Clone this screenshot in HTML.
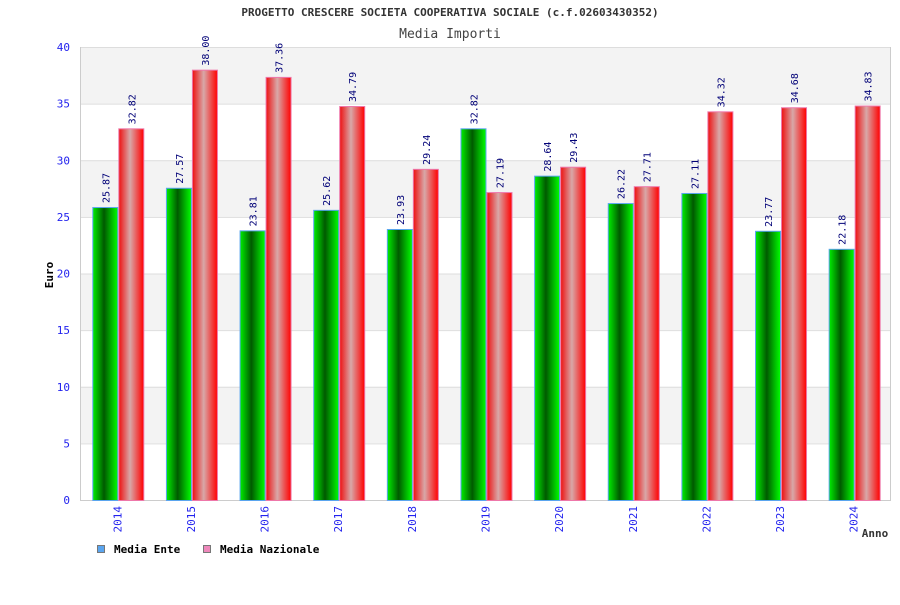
<!DOCTYPE html>
<html><head><meta charset="utf-8"><style>
body{margin:0;background:#fff;}
svg text{font-family:"DejaVu Sans Mono","Liberation Mono",monospace;}
</style></head><body>
<svg id="chart" width="900" height="600" xmlns="http://www.w3.org/2000/svg">
<defs>
<linearGradient id="gGreen" x1="0" x2="1" y1="0" y2="0">
<stop offset="0" stop-color="#00ee00"/><stop offset="0.45" stop-color="#005a00"/><stop offset="1" stop-color="#00ff00"/>
</linearGradient>
<linearGradient id="gRed" x1="0" x2="1" y1="0" y2="0">
<stop offset="0" stop-color="#ee1010"/><stop offset="0.45" stop-color="#d8a8a8"/><stop offset="1" stop-color="#ff0000"/>
</linearGradient>
</defs>
<text x="450" y="16" text-anchor="middle" font-size="11" font-weight="bold" fill="#333">PROGETTO CRESCERE SOCIETA COOPERATIVA SOCIALE (c.f.02603430352)</text>
<text x="450" y="38" text-anchor="middle" font-size="13" fill="#444">Media Importi</text>
<g id="bands"></g><g id="yaxis"></g><g id="bars"></g><g id="xaxis"></g>
<text transform="translate(53,275) rotate(-90)" text-anchor="middle" font-size="11" font-weight="bold" fill="#000">Euro</text>
<text x="875" y="537" text-anchor="middle" font-size="11" font-weight="bold" fill="#333">Anno</text>
<g>
<rect x="97.5" y="545.5" width="7" height="7" fill="#5aa5ef" stroke="#777"/>
<text x="114" y="553" font-size="11" font-weight="bold" fill="#000">Media Ente</text>
<rect x="203.5" y="545.5" width="7" height="7" fill="#ee88bb" stroke="#777"/>
<text x="220" y="553" font-size="11" font-weight="bold" fill="#000">Media Nazionale</text>
</g>
</svg>
<script>
const categories=["2014","2015","2016","2017","2018","2019","2020","2021","2022","2023","2024"];
const enteValues=[25.87,27.57,23.81,25.62,23.93,32.82,28.64,26.22,27.11,23.77,22.18];
const nazionaleValues=[32.82,38.00,37.36,34.79,29.24,27.19,29.43,27.71,34.32,34.68,34.83];
const enteLabels=["25.87","27.57","23.81","25.62","23.93","32.82","28.64","26.22","27.11","23.77","22.18"];
const nazionaleLabels=["32.82","38.00","37.36","34.79","29.24","27.19","29.43","27.71","34.32","34.68","34.83"];
const yTicks=[0,5,10,15,20,25,30,35,40];
const NS="http://www.w3.org/2000/svg";
const L=80,R=890,T=47,B=500,yMax=40;
const y=v=>B-(v/yMax)*(B-T);
const gw=(R-L)/categories.length;
const x=i=>L+i*gw;
function mk(tag,attrs,parent){const e=document.createElementNS(NS,tag);for(const k in attrs)e.setAttribute(k,attrs[k]);parent.appendChild(e);return e;}
const bands=document.getElementById('bands'),ya=document.getElementById('yaxis'),bars=document.getElementById('bars'),xa=document.getElementById('xaxis');
for(let i=0;i<yTicks.length-1;i++){
 const top=yTicks[yTicks.length-1-i],bot=yTicks[yTicks.length-2-i];
 const r=mk('rect',{x:L,y:y(top),width:R-L,height:y(bot)-y(top),fill:i%2===0?'#f3f3f3':'#fff'},bands);
 
 
}
yTicks.forEach(t=>{
 const ln=mk('line',{x1:L,x2:R,y1:y(t)+.5,y2:y(t)+.5,stroke:'#ddd'},ya);
 
 
 const tx=mk('text',{x:70,y:y(t)+4,'text-anchor':'end','font-size':11,fill:'#2222ee'},ya);
 
 
 tx.textContent=t;
});
const ax=mk('path',{d:`M${L+.5},${T} V${B+.5} H${R+.5} V${T}`,fill:'none',stroke:'#ccc'},ya);


const bw=26,off=12.3;
categories.forEach((c,i)=>{
 const x0=x(i)+off;
 [[enteValues[i],enteLabels[i],'url(#gGreen)','#5aa5ef','bar-ente-'+c,x0],[nazionaleValues[i],nazionaleLabels[i],'url(#gRed)','#ee77aa','bar-nazionale-'+c,x0+bw]].forEach(s=>{
  const r=mk('rect',{x:s[5]+.5,y:y(s[0])+.5,width:bw-1,height:B-y(s[0]),fill:s[2],stroke:s[3],'stroke-width':1},bars);
  
  
  const cx=s[5]+bw/2+4,cy=y(s[0])-4;
  const t=mk('text',{x:cx,y:cy,transform:`rotate(-90 ${cx} ${cy})`,'font-size':10,fill:'#000077'},bars);
  
  
  t.textContent=s[1];
 });
 const lx=x(i)+off+bw+3,ly=506;
 const t=mk('text',{x:lx,y:ly,transform:`rotate(-90 ${lx} ${ly})`,'text-anchor':'end','font-size':11,fill:'#2222ee'},xa);
 
 
 t.textContent=c;
});
</script>
</body></html>
